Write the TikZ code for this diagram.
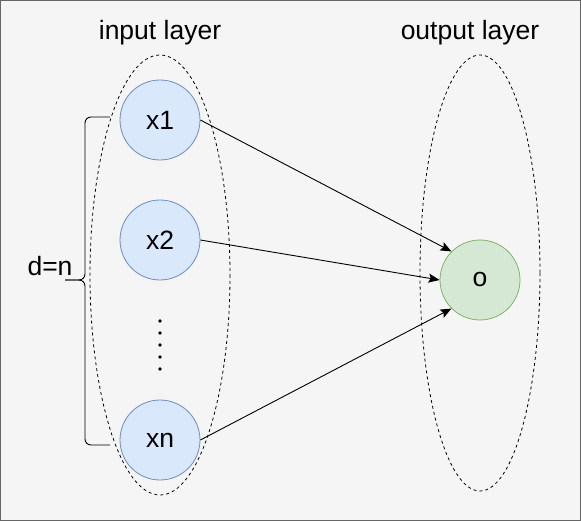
\documentclass[tikz,border=0pt]{standalone}
\usepackage{fontspec}
\setmainfont{Liberation Sans}
\usepackage{tikz}
\usetikzlibrary{arrows.meta, positioning}
\definecolor{bgcol}{HTML}{F5F5F5}
\definecolor{framecol}{HTML}{666666}
\definecolor{bluefill}{HTML}{DAE8FC}
\definecolor{bluedraw}{HTML}{6C8EBF}
\definecolor{greenfill}{HTML}{D5E8D4}
\definecolor{greendraw}{HTML}{82B366}
\tikzstyle{inputnode} = [circle, minimum size=80pt, inner sep=0pt, draw=bluedraw, fill=bluefill, line width=0.8pt]
\tikzstyle{outputnode} = [circle, minimum size=80pt, inner sep=0pt, draw=greendraw, fill=greenfill, line width=0.8pt]
\tikzstyle{layer} = [draw=black, line width=0.8pt, dash pattern=on 3pt off 3pt]
\tikzstyle{arrow} = [line width=0.9pt, -{Stealth[length=11pt, width=9pt, inset=2pt]}]

\begin{document}
\begin{tikzpicture}[x=1pt, y=-1pt, font=\fontsize{26.5}{30}\selectfont]

\useasboundingbox (0,0) rectangle (581,521);
\draw[framecol, fill=bgcol, line width=1.2pt] (0.6,0.6) rectangle (580.4,520.4);

% layers
\draw [layer] (160,275) ellipse [x radius=70, y radius=220];
\draw [layer] (480,273) ellipse [x radius=60, y radius=218];
\node (inlabel) at (160,33) {input layer};
\node (outlabel) at (470,33) {output layer};

% neurons
\node (x1) [inputnode] at (160,120) {x1};
\node (x2) [inputnode] at (160,240) {x2};
\node (xn) [inputnode] at (160,440) {xn};
\node (o) [outputnode] at (480,280) {o};
\foreach \y in {321,333,345,357,369}
  \fill (160,\y) circle (1.9pt);

% brace
\draw[line width=0.9pt, rounded corners=6pt] (110,117) -- (85,117) -- (85,280) -- (65,280);
\draw[line width=0.9pt, rounded corners=6pt] (110,445) -- (85,445) -- (85,280) -- (65,280);
\node (dim) at (50,266) {d=n};

\draw [arrow] (x1.east) -- (o.135);
\draw [arrow] (x2.east) -- (o.west);
\draw [arrow] (xn.east) -- (o.225);

\end{tikzpicture}
\end{document}
